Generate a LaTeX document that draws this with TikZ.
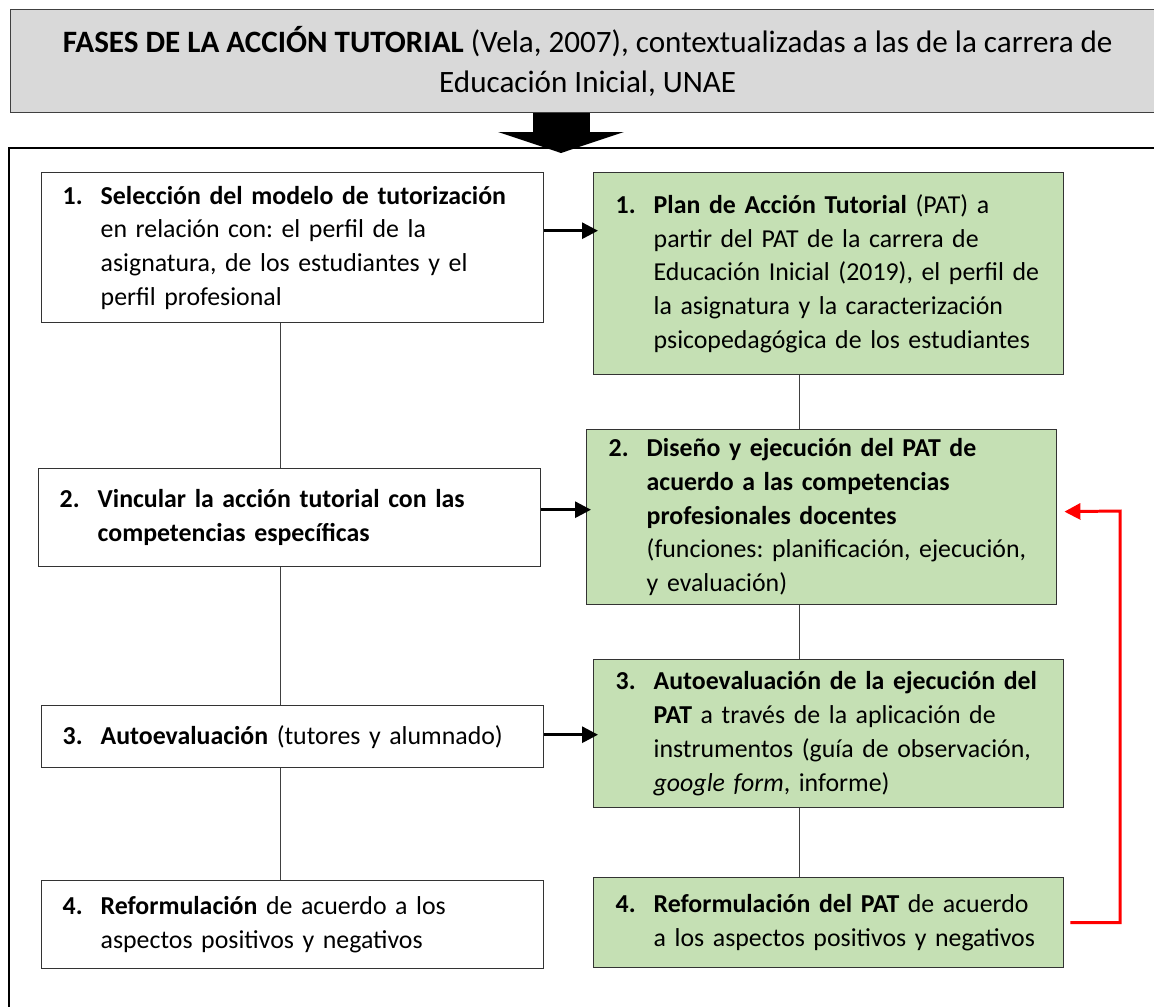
\documentclass[tikz,border=0pt]{standalone}
\usepackage{fontspec}
\setmainfont{Carlito}
\frenchspacing
\usetikzlibrary{arrows.meta}
\definecolor{grisfondo}{RGB}{217,217,217}
\definecolor{verdepat}{RGB}{197,224,180}
% numero de paso con sangria francesa
\newcommand{\paso}[2]{\rightskip=-5mm plus 1fil\hangindent=7.6mm\hangafter=1\noindent\makebox[7.6mm][l]{\textbf{#1}}#2\par}

\begin{document}
\begin{tikzpicture}[
	fase/.style={
		draw=black!80,
		line width=0.8pt,
		fill=white,
		anchor=north west,
		align=left,
		text width=9.2cm,
		inner xsep=0.42cm,
		inner ysep=1mm,
		font=\fontsize{14.7}{19.2}\selectfont
	},
	pat/.style={
		fase,
		fill=verdepat,
		text width=8.52cm,
		inner xsep=0.44cm
	},
	linea/.style={
		draw=black!75,
		line width=0.6pt
	},
	flecha/.style={
		-{Triangle[length=3.2mm,width=3.2mm]},
		line width=1.7pt
	},
	retro/.style={
		flecha,
		draw=red
	}
	]
	\useasboundingbox (0,0) rectangle (23.08,-20.14);
	
	\node[draw=black!75, line width=0.8pt, fill=grisfondo, anchor=north west, minimum width=23.08cm, minimum height=2.06cm, align=center, font=\fontsize{17.7}{22.7}\selectfont] (titulo) at (0.2,-0.18) {\textbf{FASES DE LA ACCIÓN TUTORIAL} (Vela, 2007), contextualizadas a las de la carrera de\\Educación Inicial, UNAE};
	
	% marco general
	\draw[line width=1.2pt] (0.18,-2.96) rectangle (23.6,-20.6);
	
	\coordinate (punta) at (11.22,-3.06);
	\draw[line width=1.14cm, -{Triangle[length=4.2mm,width=25mm]}] (titulo.south -| punta) -- (punta);
	
	\node[fase, minimum height=3cm] (fase1) at (0.82,-3.44) {\paso{1.}{\textbf{Selección del modelo de tutorización}\newline en relación con: el perfil de la\newline asignatura, de los estudiantes y el\newline perfil profesional}};
	\node[fase, minimum height=1.96cm] (fase2) at (0.76,-9.36) {\paso{2.}{\textbf{Vincular la acción tutorial con las}\newline\textbf{competencias específicas}}};
	\node[fase, minimum height=1.24cm] (fase3) at (0.82,-14.10) {\paso{3.}{\textbf{Autoevaluación} (tutores y alumnado)}};
	\node[fase, minimum height=1.76cm] (fase4) at (0.82,-17.60) {\paso{4.}{\textbf{Reformulación} de acuerdo a los\newline aspectos positivos y negativos}};
	
	\node[pat, minimum height=4.04cm] (pat1) at (11.86,-3.44) {\paso{1.}{\textbf{Plan de Acción Tutorial} (PAT) a\newline partir del PAT de la carrera de\newline Educación Inicial (2019), el perfil de\newline la asignatura y la caracterización\newline psicopedagógica de los estudiantes}};
	\node[pat, minimum height=3.5cm] (pat2) at (11.72,-8.58) {\paso{2.}{\textbf{Diseño y ejecución del PAT de}\newline\textbf{acuerdo a las competencias}\newline\textbf{profesionales docentes}\newline(funciones: planificación, ejecución,\newline y evaluación)}};
	\node[pat, minimum height=2.96cm] (pat3) at (11.86,-13.18) {\paso{3.}{\textbf{Autoevaluación de la ejecución del}\newline\textbf{PAT} a través de la aplicación de\newline instrumentos (guía de observación,\newline\textit{google form}, informe)}};
	\node[pat, minimum height=1.8cm] (pat4) at (11.86,-17.54) {\paso{4.}{\textbf{Reformulación del PAT} de acuerdo\newline a los aspectos positivos y negativos}};
	
	\draw[linea] ([xshift=-2.4mm]fase1.south) -- ([xshift=-2.4mm]fase1.south |- fase2.north);
	\draw[linea] ([xshift=-2.4mm]fase1.south |- fase2.south) -- ([xshift=-2.4mm]fase1.south |- fase3.north);
	\draw[linea] ([xshift=-2.4mm]fase1.south |- fase3.south) -- ([xshift=-2.4mm]fase1.south |- fase4.north);
	
	\draw[linea] ([xshift=-5.8mm]pat1.south) -- ([xshift=-5.8mm]pat1.south |- pat2.north);
	\draw[linea] ([xshift=-5.8mm]pat1.south |- pat2.south) -- ([xshift=-5.8mm]pat1.south |- pat3.north);
	\draw[linea] ([xshift=-5.8mm]pat1.south |- pat3.south) -- ([xshift=-5.8mm]pat1.south |- pat4.north);
	
	\draw[flecha, shorten >=-1mm] ([yshift=3.4mm]fase1.east) -- ([yshift=3.4mm]fase1.east -| pat1.west);
	\draw[flecha, shorten >=-1mm] ([yshift=1.6mm]fase2.east) -- ([yshift=1.6mm]fase2.east -| pat2.west);
	\draw[flecha, shorten >=-1mm] ([yshift=0.4mm]fase3.east) -- ([yshift=0.4mm]fase3.east -| pat3.west);
	
	\coordinate (giro) at (22.4,-10.22);
	\draw[retro, shorten <=1.2mm, shorten >=1.4mm] (pat4.east) -| (giro) -- ([yshift=1.1mm]pat2.east);
\end{tikzpicture}
\end{document}
